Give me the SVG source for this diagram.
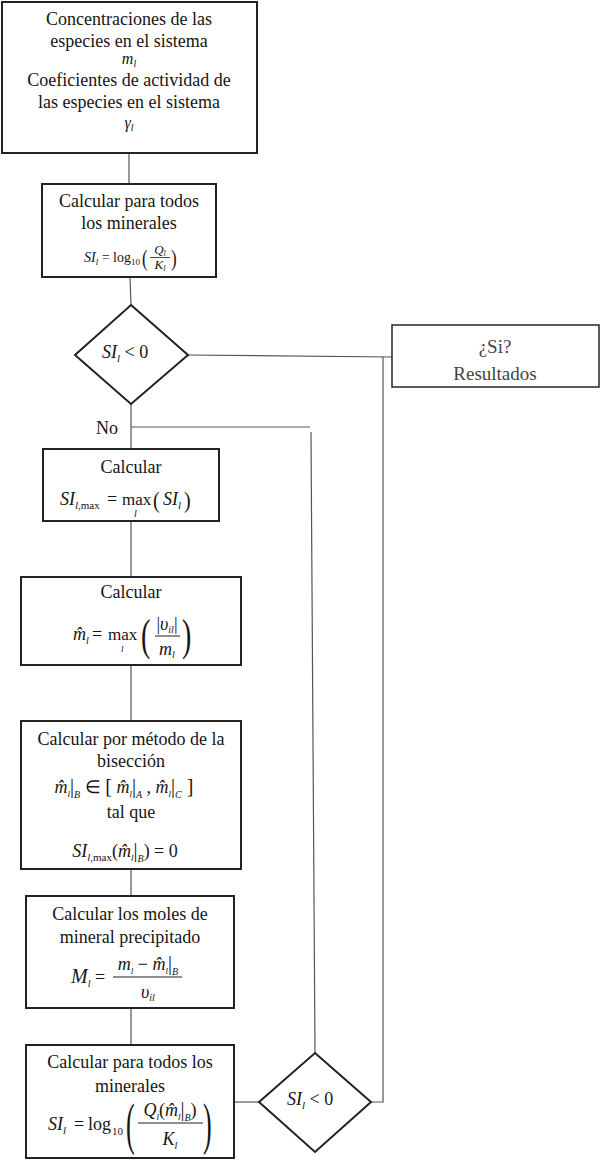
<svg xmlns="http://www.w3.org/2000/svg" width="601" height="1161" viewBox="0 0 601 1161">
<style>
svg{font-family:"Liberation Serif","Times New Roman",serif;font-size:18px}
.box{fill:#fff;stroke:#222;stroke-width:2}
.conn{fill:none;stroke:#555;stroke-width:1.2}
text{fill:#151515}
.c{text-anchor:middle}
.i{font-style:italic}
.res{fill:#444}
</style>
<rect width="601" height="1161" fill="#fff"/>
<g id="connectors">
<line class="conn" x1="129" y1="153" x2="129" y2="184"/>
<line class="conn" x1="130" y1="277" x2="131" y2="305"/>
<line class="conn" x1="188" y1="355" x2="392" y2="357"/>
<polyline class="conn" points="383,357 383,1102 371,1102"/>
<line class="conn" x1="131" y1="404" x2="131" y2="449"/>
<line class="conn" x1="131" y1="427" x2="310" y2="427"/>
<line class="conn" x1="311" y1="432" x2="315" y2="1053"/>
<line class="conn" x1="131" y1="521" x2="131" y2="577"/>
<line class="conn" x1="131" y1="665" x2="131" y2="721"/>
<line class="conn" x1="131" y1="869" x2="131" y2="896"/>
<line class="conn" x1="131" y1="1008" x2="131" y2="1045"/>
<line class="conn" x1="234" y1="1102" x2="259" y2="1102"/>
<text x="96" y="434">No</text>
</g>
<g id="n-start">
<rect class="box" x="2" y="2" width="255" height="151"/>
<text class="c" x="129" y="25">Concentraciones de las</text>
<text class="c" x="129" y="47">especies en el sistema</text>
<text class="c i" x="129" y="64" font-size="16">m<tspan font-size="10" dy="3">l</tspan></text>
<text class="c" x="129" y="86">Coeficientes de actividad de</text>
<text class="c" x="129" y="108">las especies en el sistema</text>
<text class="c i" x="129" y="128" font-size="16">γ<tspan font-size="10" dy="3">l</tspan></text>
</g>
<g id="n-calc1">
<rect class="box" x="42" y="184" width="174" height="93"/>
<text class="c" x="129" y="207">Calcular para todos</text>
<text class="c" x="129" y="229">los minerales</text>
<text x="84" y="262" font-size="14"><tspan class="i">SI</tspan><tspan class="i" font-size="9" dy="3">l</tspan><tspan dy="-3"> = log</tspan><tspan font-size="9" dy="3">10</tspan></text>
<text transform="translate(142,266) scale(1,1.4)" font-size="17">(</text>
<text class="c i" x="160" y="254" font-size="13">Q<tspan font-size="8" dy="2">l</tspan></text>
<line x1="150" y1="257.5" x2="170" y2="257.5" stroke="#1e1e1e" stroke-width="0.8"/>
<text class="c i" x="160" y="269" font-size="13">K<tspan font-size="8" dy="2">l</tspan></text>
<text transform="translate(171,266) scale(1,1.4)" font-size="17">)</text>
</g>
<g id="n-dec1">
<polygon class="box" points="131,305 188,355 131,404 75,355"/>
<text x="102" y="358"><tspan class="i">SI</tspan><tspan class="i" font-size="11" dy="4">l</tspan><tspan dy="-4"> &lt; 0</tspan></text>
</g>
<g id="n-result">
<rect class="box" x="392" y="325" width="207" height="62" style="stroke:#333;stroke-width:1.6"/>
<text class="c res" x="495" y="353" font-size="19">¿Si?</text>
<text class="c res" x="495" y="380" font-size="19">Resultados</text>
</g>
<g id="n-max">
<rect class="box" x="43" y="449" width="176" height="72"/>
<text class="c" x="131" y="473">Calcular</text>
<text x="60" y="505"><tspan class="i">SI</tspan><tspan class="i" font-size="11" dy="4">l</tspan><tspan font-size="11">,max</tspan></text>
<text x="107" y="505">=</text>
<text x="122" y="505" font-size="17">max</text>
<text class="i" x="134" y="517" font-size="10">l</text>
<text transform="translate(153,508) scale(1,1.2)" font-size="20">(</text>
<text x="163" y="505"><tspan class="i">SI</tspan><tspan class="i" font-size="11" dy="4">l</tspan></text>
<text transform="translate(184,508) scale(1,1.2)" font-size="20">)</text>
</g>
<g id="n-mhat">
<rect class="box" x="21" y="577" width="220" height="88"/>
<text class="c" x="131" y="598">Calcular</text>
<text class="i" x="73" y="640">m̂<tspan font-size="10" dy="4">l</tspan></text>
<text x="92" y="640">=</text>
<text x="108" y="640" font-size="17">max</text>
<text class="i" x="121" y="652" font-size="9">l</text>
<text transform="translate(141,650) scale(1,1.6)" font-size="28">(</text>
<text class="c" x="167" y="630">|<tspan class="i">υ</tspan><tspan class="i" font-size="10" dy="3">il</tspan><tspan dy="-3">|</tspan></text>
<line x1="155" y1="636" x2="180" y2="636" stroke="#1e1e1e" stroke-width="1"/>
<text class="c i" x="167" y="655">m<tspan font-size="10" dy="3">l</tspan></text>
<text transform="translate(182,650) scale(1,1.6)" font-size="28">)</text>
</g>
<g id="n-bisec">
<rect class="box" x="21" y="721" width="220" height="148"/>
<text class="c" x="131" y="745">Calcular por método de la</text>
<text class="c" x="131" y="767">bisección</text>
<text class="c" x="124" y="793"><tspan class="i">m̂</tspan><tspan class="i" font-size="9" dy="4">l</tspan><tspan dy="-4" font-size="20">|</tspan><tspan class="i" font-size="10" dy="5">B</tspan><tspan dy="-5"> ∈ </tspan><tspan font-size="20">[</tspan><tspan class="i"> m̂</tspan><tspan class="i" font-size="9" dy="4">l</tspan><tspan dy="-4" font-size="20">|</tspan><tspan class="i" font-size="10" dy="5">A</tspan><tspan dy="-5"> , </tspan><tspan class="i">m̂</tspan><tspan class="i" font-size="9" dy="4">l</tspan><tspan dy="-4" font-size="20">|</tspan><tspan class="i" font-size="10" dy="5">C</tspan><tspan dy="-5" font-size="20"> ]</tspan></text>
<text class="c" x="131" y="818">tal que</text>
<text class="c" x="125" y="857"><tspan class="i">SI</tspan><tspan class="i" font-size="11" dy="4">l</tspan><tspan font-size="11">,max</tspan><tspan dy="-4">(</tspan><tspan class="i">m̂</tspan><tspan class="i" font-size="9" dy="4">l</tspan><tspan dy="-4" font-size="20">|</tspan><tspan class="i" font-size="10" dy="5">B</tspan><tspan dy="-5">) = 0</tspan></text>
</g>
<g id="n-moles">
<rect class="box" x="26" y="896" width="208" height="112"/>
<text class="c" x="130" y="920">Calcular los moles de</text>
<text class="c" x="130" y="943">mineral precipitado</text>
<text class="i" x="71" y="983" font-size="20">M<tspan font-size="10" dy="4">l</tspan></text>
<text x="95" y="983">=</text>
<text class="c" x="148" y="970"><tspan class="i">m</tspan><tspan class="i" font-size="9" dy="4">l</tspan><tspan dy="-4"> − </tspan><tspan class="i">m̂</tspan><tspan class="i" font-size="9" dy="4">l</tspan><tspan dy="-4" font-size="20">|</tspan><tspan class="i" font-size="10" dy="5">B</tspan></text>
<line x1="113" y1="977" x2="182" y2="977" stroke="#1e1e1e" stroke-width="1"/>
<text class="c i" x="148" y="998">υ<tspan font-size="10" dy="3">il</tspan></text>
</g>
<g id="n-calc2">
<rect class="box" x="26" y="1045" width="208" height="113"/>
<text class="c" x="130" y="1068">Calcular para todos los</text>
<text class="c" x="130" y="1092">minerales</text>
<text x="48" y="1130"><tspan class="i">SI</tspan><tspan class="i" font-size="11" dy="4">l</tspan></text>
<text x="74" y="1130">=</text>
<text x="88" y="1130">log</text>
<text x="112" y="1135" font-size="11">10</text>
<text transform="translate(126,1143) scale(1,2.2)" font-size="26">(</text>
<text class="c" x="170" y="1116"><tspan class="i">Q</tspan><tspan class="i" font-size="9" dy="4">l</tspan><tspan dy="-4">(</tspan><tspan class="i">m̂</tspan><tspan class="i" font-size="9" dy="4">l</tspan><tspan dy="-4" font-size="20">|</tspan><tspan class="i" font-size="10" dy="5">B</tspan><tspan dy="-5">)</tspan></text>
<line x1="138" y1="1123" x2="203" y2="1123" stroke="#1e1e1e" stroke-width="1"/>
<text class="c i" x="170" y="1145">K<tspan font-size="10" dy="4">l</tspan></text>
<text transform="translate(203,1143) scale(1,2.2)" font-size="26">)</text>
</g>
<g id="n-dec2">
<polygon class="box" points="315,1053 371,1102 315,1152 259,1102"/>
<text x="287" y="1105"><tspan class="i">SI</tspan><tspan class="i" font-size="11" dy="4">l</tspan><tspan dy="-4"> &lt; 0</tspan></text>
</g>
</svg>
